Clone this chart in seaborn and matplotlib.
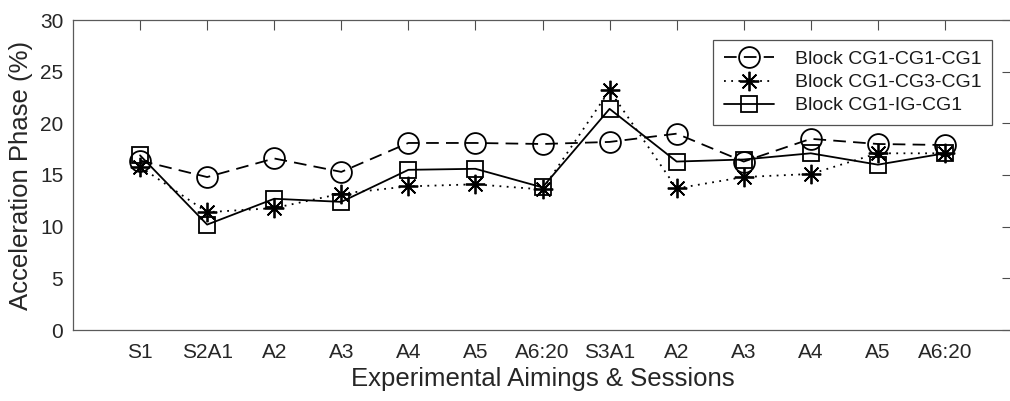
import numpy as np
import pandas as pd
import matplotlib
matplotlib.use("Agg")
import matplotlib.pyplot as plt
import seaborn as sns

categories = ["S1", "S2A1", "A2", "A3", "A4", "A5", "A6:20",
              "S3A1", "A2", "A3", "A4", "A5", "A6:20"]
cg1_cg1_cg1 = [16.4, 14.8, 16.6, 15.3, 18.1, 18.1, 18.0, 18.2, 19.0, 16.3, 18.5, 18.0, 17.9]
cg1_cg3_cg1 = [15.8, 11.4, 11.8, 13.2, 13.9, 14.1, 13.6, 23.2, 13.7, 14.8, 15.1, 17.1, 17.1]
cg1_ig_cg1 = [16.9, 10.2, 12.7, 12.4, 15.5, 15.6, 13.8, 21.4, 16.3, 16.5, 17.1, 16.0, 17.1]
series_names = ["Block CG1-CG1-CG1", "Block CG1-CG3-CG1", "Block CG1-IG-CG1"]
yticks = [0, 5, 10, 15, 20, 25, 30]

positions = np.arange(1, len(categories) + 1)
df = pd.DataFrame({
    "pos": np.tile(positions, 3),
    "value": cg1_cg1_cg1 + cg1_cg3_cg1 + cg1_ig_cg1,
    "series": np.repeat(series_names, len(categories)),
})

sns.set_theme(style="white")
plt.rcParams["font.family"] = ["Liberation Sans", "DejaVu Sans"]

fig = plt.figure(figsize=(10.10, 4.01), dpi=100)
ax = fig.add_axes([73 / 1010, 1 - 330 / 401, (1012 - 73) / 1010, (330 - 20) / 401])

styles = {
    "Block CG1-CG1-CG1": dict(marker="o", linestyle=(0, (7, 4)), markersize=15),
    "Block CG1-CG3-CG1": dict(marker=(8, 2, 0), linestyle=(0, (1, 3)), markersize=14),
    "Block CG1-IG-CG1": dict(marker="s", linestyle="-", markersize=12),
}
for name in series_names:
    sub = df[df["series"] == name]
    st = styles[name]
    sns.lineplot(data=sub, x="pos", y="value", ax=ax, color="black",
                 linewidth=1.3, marker=st["marker"], markersize=st["markersize"],
                 markerfacecolor="none", markeredgecolor="black",
                 markeredgewidth=1.3, linestyle=st["linestyle"], label=name)

ax.set_xlim(0, 14)
ax.set_ylim(0, 30)
ax.set_xticks(positions)
ax.set_xticklabels(categories)
ax.set_yticks(yticks)
ax.tick_params(axis="both", direction="in", length=7, width=0.8, colors="#4d4d4d",
               labelcolor="#262626", labelsize=15, top=True, right=True)
ax.tick_params(axis="x", pad=9)
ax.tick_params(axis="y", pad=7)
for sp in ax.spines.values():
    sp.set_color("#5a5a5a")
    sp.set_linewidth(0.9)
    sp.set_visible(True)
ax.set_xlabel("Experimental Aimings & Sessions", fontsize=18.5, color="#262626", labelpad=4)
ax.set_ylabel("Acceleration Phase (%)", fontsize=18.5, color="#262626", labelpad=5)
ax.grid(False)

leg = ax.legend(loc="upper right", bbox_to_anchor=(992 / 1010, 1 - 40 / 401),
                bbox_transform=fig.transFigure, frameon=True, fancybox=False,
                fontsize=14, handlelength=2.6, borderpad=0.55, labelspacing=0.28,
                handletextpad=1.05, borderaxespad=0)
leg.get_frame().set_edgecolor("#262626")
leg.get_frame().set_linewidth(0.9)
for t in leg.get_texts():
    t.set_color("#1a1a1a")

fig.savefig("out.png", dpi=100)
